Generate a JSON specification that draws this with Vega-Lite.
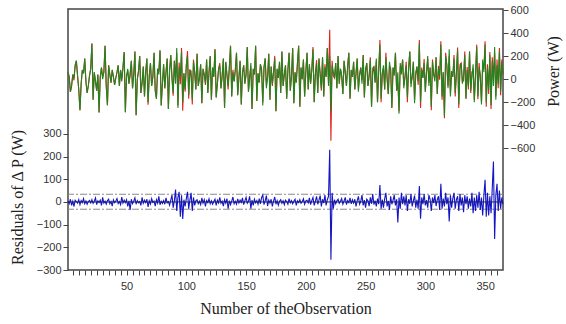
{
"$schema": "https://vega.github.io/schema/vega-lite/v6.json",
"width": 435, "height": 261,
"autosize": "none",
"padding": {"left": 68, "top": 9, "right": 63, "bottom": 54},
"background": "white",
"config": {
  "view": {"stroke": "#444", "strokeWidth": 1.5},
  "axis": {"domain": false, "grid": false, "labelFont": "Liberation Sans", "labelFontSize": 11, "labelColor": "#333", "tickColor": "#444", "tickWidth": 1, "titleFont": "Liberation Serif", "titleFontSize": 16, "titleFontWeight": "normal", "titleColor": "#222"}
},
"datasets": {
"obs": [
{"n":1,"g":60,"r":60,"e":5},{"n":2,"g":20,"r":20,"e":-8},{"n":3,"g":-110,"r":-110,"e":12},{"n":4,"g":-60,"r":-60,"e":-15},{"n":5,"g":40,"r":40,"e":3},{"n":6,"g":10,"r":-10,"e":-20},{"n":7,"g":120,"r":120,"e":8},{"n":8,"g":160,"r":160,"e":2},{"n":9,"g":30,"r":30,"e":-5},{"n":10,"g":-90,"r":-90,"e":10},
{"n":11,"g":-270,"r":-270,"e":-12},{"n":12,"g":-40,"r":-40,"e":6},{"n":13,"g":80,"r":80,"e":-3},{"n":14,"g":50,"r":50,"e":15},{"n":15,"g":180,"r":180,"e":-8},{"n":16,"g":-20,"r":-20,"e":4},{"n":17,"g":-120,"r":-120,"e":-10},{"n":18,"g":-60,"r":-60,"e":2},{"n":19,"g":30,"r":30,"e":7},{"n":20,"g":90,"r":90,"e":-4},
{"n":21,"g":310,"r":310,"e":10},{"n":22,"g":-180,"r":-180,"e":-6},{"n":23,"g":60,"r":60,"e":3},{"n":24,"g":-20,"r":-20,"e":18},{"n":25,"g":-100,"r":-100,"e":-12},{"n":26,"g":40,"r":40,"e":5},{"n":27,"g":-290,"r":-290,"e":-2},{"n":28,"g":20,"r":20,"e":8},{"n":29,"g":100,"r":100,"e":-15},{"n":30,"g":0,"r":20,"e":20},
{"n":31,"g":60,"r":60,"e":-5},{"n":32,"g":290,"r":290,"e":3},{"n":33,"g":-60,"r":-60,"e":-10},{"n":34,"g":-226,"r":-226,"e":6},{"n":35,"g":120,"r":120,"e":12},{"n":36,"g":40,"r":40,"e":-8},{"n":37,"g":-30,"r":-30,"e":2},{"n":38,"g":80,"r":80,"e":-18},{"n":39,"g":20,"r":20,"e":9},{"n":40,"g":-50,"r":-50,"e":-3},
{"n":41,"g":10,"r":10,"e":4},{"n":42,"g":60,"r":60,"e":15},{"n":43,"g":120,"r":120,"e":-7},{"n":44,"g":-60,"r":-60,"e":2},{"n":45,"g":80,"r":80,"e":-12},{"n":46,"g":-20,"r":2,"e":22},{"n":47,"g":100,"r":100,"e":-5},{"n":48,"g":235,"r":235,"e":8},{"n":49,"g":-287,"r":-287,"e":-3},{"n":50,"g":30,"r":30,"e":10},
{"n":51,"g":90,"r":70,"e":-20},{"n":52,"g":-40,"r":-40,"e":5},{"n":53,"g":60,"r":25,"e":-35},{"n":54,"g":160,"r":160,"e":12},{"n":55,"g":-80,"r":-80,"e":-8},{"n":56,"g":40,"r":40,"e":3},{"n":57,"g":240,"r":240,"e":18},{"n":58,"g":-313,"r":-313,"e":-10},{"n":59,"g":0,"r":0,"e":6},{"n":60,"g":70,"r":70,"e":-4},
{"n":61,"g":200,"r":200,"e":2},{"n":62,"g":-120,"r":-120,"e":-15},{"n":63,"g":-40,"r":-20,"e":20},{"n":64,"g":110,"r":110,"e":-6},{"n":65,"g":-150,"r":-150,"e":8},{"n":66,"g":60,"r":60,"e":-3},{"n":67,"g":180,"r":180,"e":12},{"n":68,"g":-200,"r":-222,"e":-22},{"n":69,"g":30,"r":30,"e":5},{"n":70,"g":140,"r":140,"e":-9},
{"n":71,"g":-60,"r":-60,"e":15},{"n":72,"g":20,"r":20,"e":-2},{"n":73,"g":230,"r":230,"e":4},{"n":74,"g":-100,"r":-100,"e":-18},{"n":75,"g":-170,"r":-170,"e":10},{"n":76,"g":90,"r":90,"e":-5},{"n":77,"g":40,"r":65,"e":25},{"n":78,"g":250,"r":250,"e":-12},{"n":79,"g":-230,"r":-230,"e":3},{"n":80,"g":-40,"r":-40,"e":-7},
{"n":81,"g":130,"r":130,"e":6},{"n":82,"g":-80,"r":-80,"e":-10},{"n":83,"g":60,"r":60,"e":18},{"n":84,"g":180,"r":180,"e":-4},{"n":85,"g":-260,"r":-260,"e":2},{"n":86,"g":70,"r":70,"e":-14},{"n":87,"g":210,"r":210,"e":8},{"n":88,"g":0,"r":30,"e":30},{"n":89,"g":-120,"r":-145,"e":-25},{"n":90,"g":160,"r":160,"e":5},
{"n":91,"g":-40,"r":15,"e":55},{"n":92,"g":270,"r":230,"e":-40},{"n":93,"g":-250,"r":-230,"e":20},{"n":94,"g":100,"r":145,"e":45},{"n":95,"g":20,"r":-45,"e":-65},{"n":96,"g":240,"r":270,"e":30},{"n":97,"g":-200,"r":-275,"e":-75},{"n":98,"g":50,"r":50,"e":10},{"n":99,"g":-90,"r":-110,"e":-20},{"n":100,"g":120,"r":120,"e":15},
{"n":101,"g":200,"r":245,"e":45},{"n":102,"g":-140,"r":-170,"e":-30},{"n":103,"g":80,"r":80,"e":8},{"n":104,"g":30,"r":70,"e":40},{"n":105,"g":-180,"r":-220,"e":-40},{"n":106,"g":150,"r":170,"e":20},{"n":107,"g":60,"r":60,"e":-15},{"n":108,"g":-90,"r":-90,"e":5},{"n":109,"g":220,"r":220,"e":10},{"n":110,"g":-60,"r":-60,"e":-8},
{"n":111,"g":10,"r":10,"e":3},{"n":112,"g":130,"r":130,"e":-12},{"n":113,"g":-210,"r":-210,"e":18},{"n":114,"g":90,"r":90,"e":-5},{"n":115,"g":40,"r":40,"e":10},{"n":116,"g":-30,"r":-50,"e":-20},{"n":117,"g":170,"r":170,"e":6},{"n":118,"g":-120,"r":-120,"e":-3},{"n":119,"g":60,"r":60,"e":14},{"n":120,"g":200,"r":200,"e":-8},
{"n":121,"g":-180,"r":-180,"e":5},{"n":122,"g":100,"r":100,"e":-10},{"n":123,"g":20,"r":20,"e":2},{"n":124,"g":260,"r":260,"e":12},{"n":125,"g":-160,"r":-160,"e":-15},{"n":126,"g":-40,"r":-40,"e":8},{"n":127,"g":90,"r":90,"e":-4},{"n":128,"g":120,"r":140,"e":20},{"n":129,"g":-80,"r":-80,"e":-6},{"n":130,"g":30,"r":30,"e":3},
{"n":131,"g":180,"r":180,"e":-18},{"n":132,"g":-250,"r":-250,"e":10},{"n":133,"g":150,"r":150,"e":-5},{"n":134,"g":40,"r":40,"e":15},{"n":135,"g":-60,"r":-90,"e":-30},{"n":136,"g":100,"r":100,"e":6},{"n":137,"g":290,"r":290,"e":-12},{"n":138,"g":-150,"r":-150,"e":4},{"n":139,"g":60,"r":82,"e":22},{"n":140,"g":-20,"r":-20,"e":-8},
{"n":141,"g":80,"r":80,"e":3},{"n":142,"g":230,"r":230,"e":-10},{"n":143,"g":-140,"r":-140,"e":14},{"n":144,"g":10,"r":10,"e":-5},{"n":145,"g":160,"r":160,"e":8},{"n":146,"g":-220,"r":-220,"e":-2},{"n":147,"g":60,"r":60,"e":18},{"n":148,"g":120,"r":120,"e":-12},{"n":149,"g":-40,"r":-40,"e":5},{"n":150,"g":30,"r":50,"e":20},
{"n":151,"g":280,"r":280,"e":-6},{"n":152,"g":-110,"r":-110,"e":3},{"n":153,"g":0,"r":25,"e":25},{"n":154,"g":140,"r":110,"e":-30},{"n":155,"g":-260,"r":-260,"e":8},{"n":156,"g":90,"r":90,"e":-15},{"n":157,"g":40,"r":40,"e":12},{"n":158,"g":290,"r":290,"e":-4},{"n":159,"g":-190,"r":-190,"e":6},{"n":160,"g":50,"r":50,"e":-10},
{"n":161,"g":-30,"r":-30,"e":15},{"n":162,"g":130,"r":130,"e":-8},{"n":163,"g":70,"r":90,"e":20},{"n":164,"g":-230,"r":-200,"e":30},{"n":165,"g":100,"r":100,"e":-12},{"n":166,"g":180,"r":180,"e":5},{"n":167,"g":-80,"r":-52,"e":28},{"n":168,"g":20,"r":20,"e":-18},{"n":169,"g":220,"r":220,"e":8},{"n":170,"g":-180,"r":-180,"e":-5},
{"n":171,"g":110,"r":110,"e":12},{"n":172,"g":-40,"r":-60,"e":-20},{"n":173,"g":60,"r":60,"e":4},{"n":174,"g":180,"r":202,"e":22},{"n":175,"g":-280,"r":-280,"e":-10},{"n":176,"g":90,"r":90,"e":6},{"n":177,"g":10,"r":10,"e":-14},{"n":178,"g":150,"r":150,"e":3},{"n":179,"g":-120,"r":-120,"e":10},{"n":180,"g":240,"r":240,"e":-6},
{"n":181,"g":-60,"r":-60,"e":5},{"n":182,"g":40,"r":40,"e":-12},{"n":183,"g":120,"r":120,"e":8},{"n":184,"g":-170,"r":-170,"e":2},{"n":185,"g":80,"r":80,"e":-10},{"n":186,"g":230,"r":230,"e":15},{"n":187,"g":-100,"r":-100,"e":-4},{"n":188,"g":20,"r":20,"e":6},{"n":189,"g":270,"r":270,"e":-8},{"n":190,"g":-210,"r":-210,"e":3},
{"n":191,"g":60,"r":60,"e":12},{"n":192,"g":-30,"r":-30,"e":-15},{"n":193,"g":140,"r":140,"e":5},{"n":194,"g":290,"r":290,"e":-3},{"n":195,"g":-240,"r":-240,"e":10},{"n":196,"g":100,"r":100,"e":-6},{"n":197,"g":0,"r":0,"e":2},{"n":198,"g":170,"r":170,"e":14},{"n":199,"g":-150,"r":-150,"e":-10},{"n":200,"g":60,"r":60,"e":5},
{"n":201,"g":230,"r":230,"e":8},{"n":202,"g":-90,"r":-90,"e":-4},{"n":203,"g":130,"r":130,"e":18},{"n":204,"g":-40,"r":-40,"e":-12},{"n":205,"g":80,"r":80,"e":6},{"n":206,"g":260,"r":280,"e":20},{"n":207,"g":-200,"r":-200,"e":-15},{"n":208,"g":40,"r":40,"e":3},{"n":209,"g":140,"r":165,"e":25},{"n":210,"g":-120,"r":-120,"e":-10},
{"n":211,"g":180,"r":180,"e":8},{"n":212,"g":30,"r":58,"e":28},{"n":213,"g":-80,"r":-100,"e":-20},{"n":214,"g":190,"r":190,"e":12},{"n":215,"g":-150,"r":-150,"e":-5},{"n":216,"g":100,"r":130,"e":30},{"n":217,"g":20,"r":20,"e":-15},{"n":218,"g":270,"r":270,"e":10},{"n":219,"g":-60,"r":-35,"e":25},{"n":220,"g":200,"r":430,"e":230},
{"n":221,"g":-280,"r":-535,"e":-255},{"n":222,"g":120,"r":160,"e":40},{"n":223,"g":60,"r":30,"e":-30},{"n":224,"g":10,"r":10,"e":10},{"n":225,"g":140,"r":140,"e":-8},{"n":226,"g":-80,"r":-80,"e":5},{"n":227,"g":200,"r":200,"e":12},{"n":228,"g":-40,"r":-40,"e":-6},{"n":229,"g":90,"r":90,"e":3},{"n":230,"g":30,"r":30,"e":15},
{"n":231,"g":-130,"r":-130,"e":-10},{"n":232,"g":160,"r":160,"e":4},{"n":233,"g":50,"r":70,"e":20},{"n":234,"g":-60,"r":-60,"e":-12},{"n":235,"g":110,"r":110,"e":6},{"n":236,"g":230,"r":230,"e":-3},{"n":237,"g":-170,"r":-170,"e":18},{"n":238,"g":80,"r":80,"e":-8},{"n":239,"g":20,"r":20,"e":10},{"n":240,"g":150,"r":150,"e":-5},
{"n":241,"g":-90,"r":-90,"e":12},{"n":242,"g":60,"r":40,"e":-20},{"n":243,"g":180,"r":180,"e":6},{"n":244,"g":-110,"r":-85,"e":25},{"n":245,"g":40,"r":40,"e":-10},{"n":246,"g":100,"r":100,"e":3},{"n":247,"g":-40,"r":-10,"e":30},{"n":248,"g":210,"r":210,"e":-15},{"n":249,"g":-160,"r":-160,"e":8},{"n":250,"g":90,"r":65,"e":-25},
{"n":251,"g":140,"r":140,"e":12},{"n":252,"g":-60,"r":-60,"e":5},{"n":253,"g":30,"r":30,"e":-18},{"n":254,"g":170,"r":190,"e":20},{"n":255,"g":-240,"r":-240,"e":-8},{"n":256,"g":60,"r":95,"e":35},{"n":257,"g":110,"r":110,"e":-12},{"n":258,"g":-30,"r":-30,"e":6},{"n":259,"g":180,"r":160,"e":-20},{"n":260,"g":-200,"r":-200,"e":15},
{"n":261,"g":80,"r":80,"e":-10},{"n":262,"g":300,"r":340,"e":75},{"n":263,"g":-170,"r":-200,"e":-30},{"n":264,"g":50,"r":50,"e":10},{"n":265,"g":120,"r":95,"e":-25},{"n":266,"g":-90,"r":-90,"e":15},{"n":267,"g":190,"r":230,"e":40},{"n":268,"g":20,"r":0,"e":-20},{"n":269,"g":-130,"r":-130,"e":5},{"n":270,"g":150,"r":115,"e":-35},
{"n":271,"g":70,"r":95,"e":25},{"n":272,"g":-250,"r":-250,"e":-10},{"n":273,"g":100,"r":100,"e":8},{"n":274,"g":30,"r":60,"e":30},{"n":275,"g":230,"r":230,"e":-15},{"n":276,"g":-100,"r":-100,"e":12},{"n":277,"g":60,"r":-30,"e":-90},{"n":278,"g":-300,"r":-280,"e":20},{"n":279,"g":140,"r":110,"e":-30},{"n":280,"g":40,"r":80,"e":40},
{"n":281,"g":170,"r":170,"e":-10},{"n":282,"g":-80,"r":-55,"e":25},{"n":283,"g":20,"r":20,"e":-15},{"n":284,"g":120,"r":150,"e":30},{"n":285,"g":-160,"r":-200,"e":-40},{"n":286,"g":90,"r":90,"e":12},{"n":287,"g":240,"r":240,"e":-8},{"n":288,"g":-70,"r":-35,"e":35},{"n":289,"g":30,"r":10,"e":-20},{"n":290,"g":150,"r":150,"e":5},
{"n":291,"g":-210,"r":-182,"e":28},{"n":292,"g":60,"r":35,"e":-25},{"n":293,"g":110,"r":110,"e":10},{"n":294,"g":-20,"r":-50,"e":-30},{"n":295,"g":310,"r":340,"e":70},{"n":296,"g":-200,"r":-250,"e":-74},{"n":297,"g":80,"r":100,"e":20},{"n":298,"g":10,"r":10,"e":-10},{"n":299,"g":140,"r":175,"e":35},{"n":300,"g":-110,"r":-110,"e":-15},
{"n":301,"g":60,"r":60,"e":8},{"n":302,"g":200,"r":175,"e":-25},{"n":303,"g":-60,"r":-30,"e":30},{"n":304,"g":100,"r":100,"e":12},{"n":305,"g":-240,"r":-270,"e":-40},{"n":306,"g":150,"r":170,"e":20},{"n":307,"g":40,"r":40,"e":-5},{"n":308,"g":-20,"r":10,"e":30},{"n":309,"g":190,"r":190,"e":-18},{"n":310,"g":-130,"r":-130,"e":10},
{"n":311,"g":90,"r":115,"e":25},{"n":312,"g":30,"r":-5,"e":-35},{"n":313,"g":300,"r":330,"e":80},{"n":314,"g":-150,"r":-180,"e":-30},{"n":315,"g":60,"r":60,"e":15},{"n":316,"g":-320,"r":-340,"e":-20},{"n":317,"g":200,"r":230,"e":40},{"n":318,"g":120,"r":120,"e":-10},{"n":319,"g":-80,"r":-60,"e":20},{"n":320,"g":260,"r":200,"e":-86},
{"n":321,"g":-150,"r":-120,"e":30},{"n":322,"g":70,"r":45,"e":-25},{"n":323,"g":20,"r":20,"e":15},{"n":324,"g":180,"r":210,"e":40},{"n":325,"g":-120,"r":-150,"e":-30},{"n":326,"g":50,"r":50,"e":10},{"n":327,"g":250,"r":275,"e":25},{"n":328,"g":-220,"r":-250,"e":-40},{"n":329,"g":90,"r":125,"e":35},{"n":330,"g":140,"r":140,"e":-15},
{"n":331,"g":-40,"r":-20,"e":20},{"n":332,"g":30,"r":-15,"e":-45},{"n":333,"g":210,"r":240,"e":30},{"n":334,"g":-170,"r":-170,"e":-10},{"n":335,"g":80,"r":105,"e":25},{"n":336,"g":-60,"r":-90,"e":-30},{"n":337,"g":240,"r":240,"e":15},{"n":338,"g":-100,"r":-120,"e":-20},{"n":339,"g":20,"r":60,"e":40},{"n":340,"g":130,"r":90,"e":-50},
{"n":341,"g":-200,"r":-180,"e":20},{"n":342,"g":60,"r":20,"e":-40},{"n":343,"g":280,"r":300,"e":30},{"n":344,"g":-150,"r":-175,"e":-25},{"n":345,"g":100,"r":140,"e":45},{"n":346,"g":40,"r":5,"e":-35},{"n":347,"g":-220,"r":-200,"e":20},{"n":348,"g":170,"r":130,"e":-60},{"n":349,"g":60,"r":90,"e":30},{"n":350,"g":300,"r":330,"e":98},
{"n":351,"g":-200,"r":-240,"e":-65},{"n":352,"g":90,"r":130,"e":40},{"n":353,"g":-90,"r":-130,"e":-60},{"n":354,"g":210,"r":235,"e":25},{"n":355,"g":-230,"r":-260,"e":-50},{"n":356,"g":150,"r":190,"e":60},{"n":357,"g":-60,"r":20,"e":178},{"n":358,"g":280,"r":230,"e":-163},{"n":359,"g":-180,"r":-150,"e":30},{"n":360,"g":120,"r":170,"e":80},
{"n":361,"g":-40,"r":-80,"e":-40},{"n":362,"g":240,"r":270,"e":50},{"n":363,"g":-110,"r":-140,"e":-30},{"n":364,"g":150,"r":170,"e":20},{"n":365,"g":50,"r":40,"e":-10}
],
"bands": [{"level": 34, "kind": "upper"}, {"level": -32, "kind": "lower"}],
"zero": [{"level": 0}]
},
"layer": [
  {
    "data": {"name": "obs"},
    "layer": [
      {"mark": {"type": "line", "color": "#e3201b", "strokeWidth": 1.1},
       "encoding": {
         "x": {"field": "n", "type": "quantitative", "scale": {"domain": [1, 365], "nice": false, "zero": false},
           "axis": {"title": "Number of theObservation", "values": [5,10,15,20,25,30,35,40,45,50,55,60,65,70,75,80,85,90,95,100,105,110,115,120,125,130,135,140,145,150,155,160,165,170,175,180,185,190,195,200,205,210,215,220,225,230,235,240,245,250,255,260,265,270,275,280,285,290,295,300,305,310,315,320,325,330,335,340,345,350,355,360],
             "labelExpr": "datum.value % 50 === 0 ? datum.label : ''", "tickSize": 5, "labelPadding": 5, "titlePadding": 9, "labelFlush": false, "labelOverlap": false,
             "encode": {"ticks": {"update": {"y2": {"signal": "datum.value % 50 === 0 ? 5 : 3"}}}}}},
         "y": {"field": "r", "type": "quantitative", "scale": {"domain": [-1660, 610], "nice": false, "zero": false},
           "axis": {"orient": "right", "values": [-600,-400,-200,0,200,400,600], "title": "Power (W)", "titleAngle": 270, "titleX": 50, "titleY": 62, "titleAlign": "center", "titleBaseline": "middle", "tickSize": 5, "labelPadding": 2}}}},
      {"mark": {"type": "line", "color": "#1f861f", "strokeWidth": 1.1},
       "encoding": {
         "x": {"field": "n", "type": "quantitative", "scale": {"domain": [1, 365], "nice": false, "zero": false},
           "axis": {"title": "Number of theObservation", "values": [5,10,15,20,25,30,35,40,45,50,55,60,65,70,75,80,85,90,95,100,105,110,115,120,125,130,135,140,145,150,155,160,165,170,175,180,185,190,195,200,205,210,215,220,225,230,235,240,245,250,255,260,265,270,275,280,285,290,295,300,305,310,315,320,325,330,335,340,345,350,355,360],
             "labelExpr": "datum.value % 50 === 0 ? datum.label : ''", "tickSize": 5, "labelPadding": 5, "titlePadding": 9, "labelFlush": false, "labelOverlap": false,
             "encode": {"ticks": {"update": {"y2": {"signal": "datum.value % 50 === 0 ? 5 : 3"}}}}}},
         "y": {"field": "g", "type": "quantitative", "scale": {"domain": [-1660, 610], "nice": false, "zero": false},
           "axis": {"orient": "right", "values": [-600,-400,-200,0,200,400,600], "title": "Power (W)", "titleAngle": 270, "titleX": 50, "titleY": 62, "titleAlign": "center", "titleBaseline": "middle", "tickSize": 5, "labelPadding": 2}}}}
    ]
  },
  {
    "layer": [
      {"data": {"name": "bands"},
       "mark": {"type": "rule", "color": "#8a8a8a", "strokeWidth": 1, "strokeDash": [7, 2, 2, 2]},
       "encoding": {"y": {"field": "level", "type": "quantitative", "scale": {"domain": [-300, 851], "nice": false, "zero": false},
         "axis": {"orient": "left", "values": [-300,-200,-100,0,100,200,300], "title": "Residuals of Δ P (W)", "titleAngle": 270, "titleX": -51, "titleY": 188, "titleAlign": "center", "titleBaseline": "middle", "tickSize": 5, "labelPadding": 2}}}},
      {"data": {"name": "obs"},
       "mark": {"type": "line", "color": "#1515c4", "strokeWidth": 1.1},
       "encoding": {
         "x": {"field": "n", "type": "quantitative", "scale": {"domain": [1, 365], "nice": false, "zero": false},
           "axis": {"title": "Number of theObservation", "values": [5,10,15,20,25,30,35,40,45,50,55,60,65,70,75,80,85,90,95,100,105,110,115,120,125,130,135,140,145,150,155,160,165,170,175,180,185,190,195,200,205,210,215,220,225,230,235,240,245,250,255,260,265,270,275,280,285,290,295,300,305,310,315,320,325,330,335,340,345,350,355,360],
             "labelExpr": "datum.value % 50 === 0 ? datum.label : ''", "tickSize": 5, "labelPadding": 5, "titlePadding": 9, "labelFlush": false, "labelOverlap": false,
             "encode": {"ticks": {"update": {"y2": {"signal": "datum.value % 50 === 0 ? 5 : 3"}}}}}},
         "y": {"field": "e", "type": "quantitative", "scale": {"domain": [-300, 851], "nice": false, "zero": false},
           "axis": {"orient": "left", "values": [-300,-200,-100,0,100,200,300], "title": "Residuals of Δ P (W)", "titleAngle": 270, "titleX": -51, "titleY": 188, "titleAlign": "center", "titleBaseline": "middle", "tickSize": 5, "labelPadding": 2}}}},
      {"data": {"name": "zero"},
       "mark": {"type": "rule", "color": "#202060", "strokeWidth": 1},
       "encoding": {"y": {"field": "level", "type": "quantitative", "scale": {"domain": [-300, 851], "nice": false, "zero": false},
         "axis": {"orient": "left", "values": [-300,-200,-100,0,100,200,300], "title": "Residuals of Δ P (W)", "titleAngle": 270, "titleX": -51, "titleY": 188, "titleAlign": "center", "titleBaseline": "middle", "tickSize": 5, "labelPadding": 2}}}}
    ]
  }
],
"resolve": {"scale": {"y": "independent"}, "axis": {"y": "independent"}}
}
